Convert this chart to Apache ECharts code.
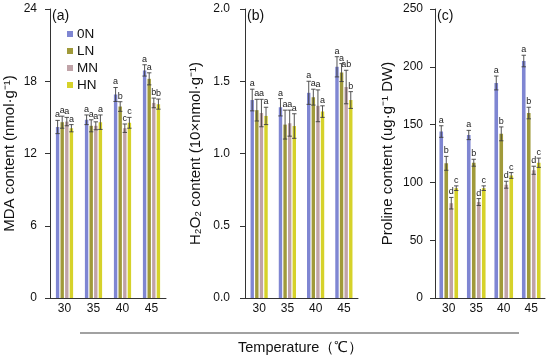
<!DOCTYPE html>
<html>
<head>
<meta charset="utf-8">
<script src="https://cdn.jsdelivr.net/npm/echarts@6/dist/echarts.min.js"></script>
<style>
html,body{margin:0;padding:0;background:#fff;}
#main{width:550px;height:362px;}
</style>
</head>
<body>
<div id="main"></div>
<script>
// ---------- data ----------
const categories = ['30', '35', '40', '45'];
const treatments = ['0N', 'LN', 'MN', 'HN'];

// (a) MDA content (nmol·g-1)
const mda0N = [14.2, 14.8, 16.9, 18.9];
const mdaLN = [14.6, 14.3, 15.9, 18.2];
const mdaMN = [14.65, 14.3, 14.1, 16.2];
const mdaHN = [14.1, 14.6, 14.55, 16.1];
const mda0NErr = [0.55, 0.4, 0.58, 0.47];
const mdaLNErr = [0.5, 0.5, 0.4, 0.5];
const mdaMNErr = [0.35, 0.33, 0.35, 0.4];
const mdaHNErr = [0.3, 0.6, 0.45, 0.42];
const mda0NSig = ['a', 'a', 'a', 'a'];
const mdaLNSig = ['a', 'a', 'b', 'a'];
const mdaMNSig = ['a', 'a', 'c', 'b'];
const mdaHNSig = ['a', 'a', 'c', 'b'];

// (b) H2O2 content (10×nmol·g-1)
const h2o20N = [1.37, 1.32, 1.42, 1.60];
const h2o2LN = [1.30, 1.20, 1.39, 1.56];
const h2o2MN = [1.28, 1.21, 1.33, 1.46];
const h2o2HN = [1.26, 1.19, 1.29, 1.37];
const h2o20NErr = [0.075, 0.06, 0.08, 0.07];
const h2o2LNErr = [0.075, 0.10, 0.055, 0.062];
const h2o2MNErr = [0.095, 0.09, 0.11, 0.116];
const h2o2HNErr = [0.06, 0.085, 0.04, 0.058];
const h2o20NSig = ['a', 'a', 'a', 'a'];
const h2o2LNSig = ['a', 'a', 'a', 'a'];
const h2o2MNSig = ['a', 'a', 'a', 'ab'];
const h2o2HNSig = ['a', 'a', 'a', 'b'];

// (c) Proline content (ug·g-1 DW)
const pro0N = [144, 141, 186, 205];
const proLN = [116.5, 117, 142, 160];
const proMN = [82, 83, 98, 110.5];
const proHN = [95, 95, 106, 117];
const pro0NErr = [5, 4, 6, 5];
const proLNErr = [6, 3, 6, 5];
const proMNErr = [5, 3, 3, 3.5];
const proHNErr = [2, 2, 2.5, 4];
const pro0NSig = ['a', 'a', 'a', 'a'];
const proLNSig = ['b', 'b', 'b', 'b'];
const proMNSig = ['d', 'd', 'd', 'd'];
const proHNSig = ['c', 'c', 'c', 'c'];

// axis ticks
const mdaTicks = {min: 0, max: 24, interval: 6};
const h2o2Ticks = {min: 0, max: 2.0, interval: 0.5};
const proTicks = {min: 0, max: 250, interval: 50};

// ---------- styling ----------
const FONT = '"Liberation Sans", Arial, Helvetica, sans-serif';
const colors = ['#7f86d2', '#a09a3a', '#c0a3a8', '#d6d22a'];
const axisColor = '#333333';

const panels = [
  {vals: [mda0N, mdaLN, mdaMN, mdaHN], errs: [mda0NErr, mdaLNErr, mdaMNErr, mdaHNErr],
   sigs: [mda0NSig, mdaLNSig, mdaMNSig, mdaHNSig], ticks: mdaTicks, dec: 0,
   name: 'MDA content (nmol·g⁻¹)', grid: {left: 50, top: 9, width: 116, height: 289},
   nameGap: 33, labelMargin: 13, bw: 3.4, gap: 1.2},
  {vals: [h2o20N, h2o2LN, h2o2MN, h2o2HN], errs: [h2o20NErr, h2o2LNErr, h2o2MNErr, h2o2HNErr],
   sigs: [h2o20NSig, h2o2LNSig, h2o2MNSig, h2o2HNSig], ticks: h2o2Ticks, dec: 1,
   name: 'H₂O₂ content (10×nmol·g⁻¹)', grid: {left: 245, top: 9, width: 113, height: 289},
   nameGap: 42, labelMargin: 15, bw: 3.4, gap: 1.2},
  {vals: [pro0N, proLN, proMN, proHN], errs: [pro0NErr, proLNErr, proMNErr, proHNErr],
   sigs: [pro0NSig, proLNSig, proMNSig, proHNSig], ticks: proTicks, dec: 0,
   name: 'Proline content (ug·g⁻¹ DW)', grid: {left: 435, top: 9, width: 110, height: 289},
   nameGap: 40, labelMargin: 12, bw: 3.6, gap: 1.4}
];

const grids = [], xAxes = [], yAxes = [], series = [];

panels.forEach((p, pi) => {
  grids.push(Object.assign({containLabel: false}, p.grid));
  xAxes.push({
    type: 'category', gridIndex: pi, data: categories, boundaryGap: true,
    axisLine: {lineStyle: {color: axisColor, width: 1}},
    axisTick: {length: 5, lineStyle: {color: axisColor}},
    axisLabel: {fontFamily: FONT, fontSize: 12, color: '#111', margin: 5}
  });
  yAxes.push({
    type: 'value', gridIndex: pi, min: p.ticks.min, max: p.ticks.max, interval: p.ticks.interval,
    name: p.name, nameLocation: 'middle', nameGap: p.nameGap,
    nameTextStyle: {fontFamily: FONT, fontSize: 15, color: '#111'},
    axisLine: {show: true, lineStyle: {color: axisColor, width: 1}},
    axisTick: {show: true, length: 5, lineStyle: {color: axisColor}},
    splitLine: {show: false},
    axisLabel: {fontFamily: FONT, fontSize: 12, color: '#111', margin: p.labelMargin,
      formatter: v => v.toFixed(p.dec)}
  });
  const n = p.vals.length;
  const total = n * p.bw + (n - 1) * p.gap;
  p.vals.forEach((arr, si) => {
    series.push({
      type: 'bar', name: treatments[si], xAxisIndex: pi, yAxisIndex: pi,
      data: arr, barWidth: p.bw, barGap: (p.gap / p.bw * 100) + '%',
      itemStyle: {color: colors[si]}, z: 2
    });
  });
  p.vals.forEach((arr, si) => {
    const off = -total / 2 + si * (p.bw + p.gap) + p.bw / 2;
    const errs = p.errs[si], sigs = p.sigs[si];
    series.push({
      type: 'custom', name: treatments[si], xAxisIndex: pi, yAxisIndex: pi, z: 5,
      data: arr.map((v, i) => [i, v, errs[i]]),
      renderItem: function (params, api) {
        const ci = api.value(0), m = api.value(1), e = api.value(2);
        const c = api.coord([ci, m]);
        const x = c[0] + off;
        const yt = api.coord([ci, m + e])[1];
        const yb = api.coord([ci, m - e])[1];
        const cw = 2.2;
        const ls = {stroke: '#3f3f3f', lineWidth: 0.9};
        return {
          type: 'group',
          children: [
            {type: 'line', shape: {x1: x, y1: yt, x2: x, y2: yb}, style: ls},
            {type: 'line', shape: {x1: x - cw, y1: yt, x2: x + cw, y2: yt}, style: ls},
            {type: 'line', shape: {x1: x - cw, y1: yb, x2: x + cw, y2: yb}, style: ls},
            {type: 'text', style: {text: sigs[params.dataIndex], x: x, y: yt - 1,
              align: 'center', verticalAlign: 'bottom', fontSize: 9, fontFamily: FONT, fill: '#222'}}
          ]
        };
      }
    });
  });
});

const chart = echarts.init(document.getElementById('main'), null, {renderer: 'canvas'});
chart.setOption({
  animation: false,
  backgroundColor: '#ffffff',
  grid: grids,
  xAxis: xAxes,
  yAxis: yAxes,
  legend: {
    data: treatments, orient: 'vertical', left: 67, top: 27, padding: 0,
    icon: 'rect', itemWidth: 6, itemHeight: 6, itemGap: 3,
    textStyle: {fontFamily: FONT, fontSize: 13.5, color: '#111', padding: [0, 0, 0, -1]}
  },
  graphic: [
    {type: 'text', left: 52, top: 9, style: {text: '(a)', fontFamily: FONT, fontSize: 14, fill: '#111'}},
    {type: 'text', left: 247, top: 9, style: {text: '(b)', fontFamily: FONT, fontSize: 14, fill: '#111'}},
    {type: 'text', left: 437, top: 9, style: {text: '(c)', fontFamily: FONT, fontSize: 14, fill: '#111'}},
    {type: 'line', shape: {x1: 80, y1: 333, x2: 519, y2: 333}, style: {stroke: '#444', lineWidth: 1.2}},
    {type: 'text', left: 238, top: 340, style: {text: 'Temperature（℃）', fontFamily: FONT, fontSize: 14.5, fill: '#111'}}
  ],
  series: series
});
</script>
</body>
</html>
